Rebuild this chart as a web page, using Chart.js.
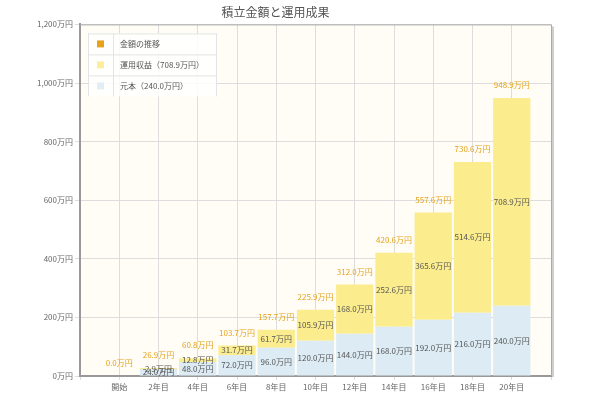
<!DOCTYPE html>
<html>
<head>
<meta charset="utf-8">
<script src="https://cdn.jsdelivr.net/npm/chart.js@4"></script>
<style>
  html, body { margin: 0; padding: 0; background: #fff; }
</style>
</head>
<body>
<canvas id="chart" width="600" height="400"></canvas>
<script>
const categories = ["開始", "2年目", "4年目", "6年目", "8年目", "10年目", "12年目", "14年目", "16年目", "18年目", "20年目"];
const principal = [0, 24.0, 48.0, 72.0, 96.0, 120.0, 144.0, 168.0, 192.0, 216.0, 240.0];
const returns = [0, 2.9, 12.8, 31.7, 61.7, 105.9, 168.0, 252.6, 365.6, 514.6, 708.9];
const totals = [0.0, 26.9, 60.8, 103.7, 157.7, 225.9, 312.0, 420.6, 557.6, 730.6, 948.9];
const yTicks = [0, 200, 400, 600, 800, 1000, 1200];

const FONT = "'Noto Sans CJK JP', 'Noto Sans', sans-serif";
const blue = "#dcebf4";
const yellow = "#fbec8e";
const orange = "#e6a21a";

// pad an empty slot at both ends so the categories sit on grid lines
const pad = arr => [null, ...arr, null];
const fmt = v => v.toFixed(1) + "万円";

// cream plot background + top/right frame
const plotFrame = {
  id: "plotFrame",
  beforeDraw(chart) {
    const { ctx, chartArea: a } = chart;
    ctx.save();
    ctx.fillStyle = "#fffdf6";
    ctx.fillRect(a.left, a.top, a.right - a.left, a.bottom - a.top);
    ctx.restore();
  },
  afterDatasetsDraw(chart) {
    const { ctx, chartArea: a } = chart;
    ctx.save();
    ctx.strokeStyle = "#cfcfcf";
    ctx.lineWidth = 2;
    ctx.beginPath();
    ctx.moveTo(a.right + 2, a.top + 2);
    ctx.lineTo(a.right + 2, a.bottom + 1);
    ctx.stroke();
    ctx.strokeStyle = "#aaa";
    ctx.lineWidth = 1;
    ctx.beginPath();
    ctx.moveTo(a.left, a.top + 0.5);
    ctx.lineTo(a.right + 0.5, a.top + 0.5);
    ctx.lineTo(a.right + 0.5, a.bottom);
    ctx.stroke();
    ctx.restore();
  }
};

// value labels inside segments and totals above bars
const valueLabels = {
  id: "valueLabels",
  afterDatasetsDraw(chart) {
    const { ctx } = chart;
    ctx.save();
    ctx.font = "8px " + FONT;
    ctx.textAlign = "center";
    ctx.textBaseline = "middle";
    [0, 1].forEach(di => {
      const src = di === 0 ? principal : returns;
      chart.getDatasetMeta(di).data.forEach((el, i) => {
        const v = src[i - 1];
        if (!v) return;
        ctx.fillStyle = "#555";
        ctx.fillText(fmt(v), el.x, (el.y + el.base) / 2);
      });
    });
    chart.getDatasetMeta(2).data.forEach((el, i) => {
      const v = totals[i - 1];
      if (v === undefined) return;
      ctx.fillStyle = orange;
      ctx.fillText(fmt(v), el.x, el.y - 13);
    });
    ctx.restore();
  }
};

// legend box inside the plot, top-left
const boxLegend = {
  id: "boxLegend",
  afterDraw(chart) {
    const { ctx, chartArea: a } = chart;
    const ds = chart.data.datasets;
    const items = [ds[2], ds[1], ds[0]];
    const x = a.left + 8, y = a.top + 9, w = 129, rowH = 21, iconW = 25;
    const h = rowH * items.length;
    ctx.save();
    ctx.fillStyle = "rgba(255,255,255,0.85)";
    ctx.fillRect(x, y, w, h);
    ctx.strokeStyle = "#e4e4e4";
    ctx.lineWidth = 1;
    ctx.beginPath();
    ctx.moveTo(x + 0.5, y);
    ctx.lineTo(x + 0.5, y + h);
    ctx.moveTo(x + iconW + 0.5, y);
    ctx.lineTo(x + iconW + 0.5, y + h);
    ctx.moveTo(x + w - 0.5, y);
    ctx.lineTo(x + w - 0.5, y + h);
    for (let r = 0; r < items.length; r++) {
      ctx.moveTo(x, y + r * rowH + 0.5);
      ctx.lineTo(x + w, y + r * rowH + 0.5);
    }
    ctx.stroke();
    ctx.font = "8px " + FONT;
    ctx.textBaseline = "middle";
    items.forEach((d, r) => {
      const cy = y + r * rowH + rowH / 2;
      ctx.fillStyle = d.legendColor;
      ctx.fillRect(x + 9, cy - 3.5, 7, 7);
      ctx.fillStyle = "#555";
      ctx.fillText(d.label, x + iconW + 7, cy);
    });
    ctx.restore();
  }
};

new Chart(document.getElementById("chart"), {
  data: {
    labels: ["", ...categories, ""],
    datasets: [
      {
        type: "bar",
        label: "元本（" + fmt(principal[principal.length - 1]) + "）",
        data: pad(principal),
        backgroundColor: blue,
        legendColor: "#e3eef4",
        barPercentage: 0.95,
        categoryPercentage: 1.0,
        stack: "bars",
        order: 2
      },
      {
        type: "bar",
        label: "運用収益（" + fmt(returns[returns.length - 1]) + "）",
        data: pad(returns),
        backgroundColor: yellow,
        legendColor: "#fcee9a",
        barPercentage: 0.95,
        categoryPercentage: 1.0,
        stack: "bars",
        order: 2
      },
      {
        type: "line",
        label: "金額の推移",
        data: pad(totals),
        borderColor: orange,
        backgroundColor: orange,
        legendColor: orange,
        showLine: false,
        pointRadius: 0,
        stack: "total",
        order: 1
      }
    ]
  },
  options: {
    responsive: false,
    animation: false,
    layout: { padding: { right: 49, top: 0, left: 0, bottom: 0 } },
    plugins: {
      legend: { display: false },
      tooltip: { enabled: false },
      title: {
        display: true,
        text: "積立金額と運用成果",
        color: "#555",
        font: { family: FONT, size: 12, weight: "normal" },
        padding: { top: 5, bottom: 5 }
      }
    },
    scales: {
      x: {
        stacked: true,
        offset: false,
        grid: { color: "#ddd", tickLength: 4, offset: false },
        border: { color: "#999", width: 2 },
        ticks: {
          color: "#666",
          font: { family: FONT, size: 8 },
          maxRotation: 0,
          autoSkip: false,
          padding: 2
        },
        afterFit(scale) { scale.height = 24; }
      },
      y: {
        stacked: true,
        min: yTicks[0],
        max: yTicks[yTicks.length - 1],
        grid: { color: "#ddd", tickLength: 5 },
        border: { color: "#999", width: 2 },
        afterBuildTicks(scale) { scale.ticks = yTicks.map(v => ({ value: v })); },
        ticks: {
          color: "#666",
          font: { family: FONT, size: 8 },
          padding: 2,
          callback: v => v.toLocaleString("ja-JP") + "万円"
        },
        afterFit(scale) { scale.width = 80; }
      }
    }
  },
  plugins: [plotFrame, valueLabels, boxLegend]
});
</script>
</body>
</html>
